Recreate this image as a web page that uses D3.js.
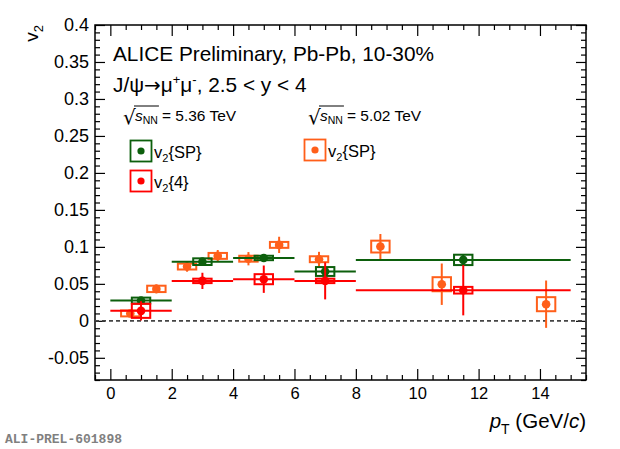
<!DOCTYPE html>
<html lang="en">
<head>
    <meta charset="UTF-8">
    <title>J/psi v2</title>
    <script src="https://cdnjs.cloudflare.com/ajax/libs/d3/7.8.5/d3.min.js"></script>
    <style>
        body { margin: 0; background: #fff; }
    </style>
</head>
<body>

<script>
    // 5.36 TeV, pT bins
    var ptLo536 = [0, 2, 4, 6, 8],
        ptHi536 = [2, 4, 6, 8, 15],
        pt536 = [1, 3, 5, 7, 11.5];
    // v2{SP} 5.36 TeV
    var v2SP536 = [0.0274, 0.080, 0.085, 0.0667, 0.0824],
        v2SP536Stat = [0.004, 0.003, 0.003, 0.005, 0.008],
        v2SP536Syst = [0.004, 0.0045, 0.003, 0.006, 0.007];
    // v2{4} 5.36 TeV
    var v24_536 = [0.0135, 0.054, 0.0563, 0.054, 0.0414],
        v24_536Stat = [0.013, 0.011, 0.0185, 0.025, 0.034],
        v24_536Syst = [0.0095, 0.003, 0.0068, 0.003, 0.0045];
    // v2{SP} 5.02 TeV
    var pt502 = [0.65, 1.5, 2.5, 3.5, 4.5, 5.5, 6.8, 8.8, 10.8, 14.2],
        v2SP502 = [0.010, 0.0432, 0.0734, 0.0878, 0.084, 0.1027, 0.0833, 0.1004, 0.0495, 0.0225],
        v2SP502Stat = [0.003, 0.006, 0.007, 0.008, 0.009, 0.011, 0.010, 0.017, 0.028, 0.032],
        v2SP502Syst = [0.004, 0.0043, 0.004, 0.004, 0.004, 0.004, 0.004, 0.008, 0.0095, 0.0095];

    var xTicks = [0, 2, 4, 6, 8, 10, 12, 14],
        yTicks = [-0.05, 0, 0.05, 0.1, 0.15, 0.2, 0.25, 0.3, 0.35, 0.4];

    var width = 620, height = 449,
        padL = 95, padR = 586, padT = 25, padB = 380,
        boxHalf = 0.3; // half width of syst. boxes in GeV/c

    var green = "#0c5f0c", red = "#ff0000", orange = "#ff5f1a";
    var sans = "Liberation Sans, Arial, Helvetica, sans-serif";

    var svg = d3.select("body").append("svg")
        .attr("width", width)
        .attr("height", height)
        .attr("font-family", sans);

    var x = d3.scaleLinear().domain([-0.5, 15.5]).range([padL, padR]);
    var y = d3.scaleLinear().domain([-0.08, 0.4]).range([padB, padT]);

    // axes, ticks pointing inwards (ROOT style)
    function fmtY(d) { return d === 0 ? "0" : String(+d.toFixed(2)); }

    var xMinor = d3.range(-0.5, 15.51, 0.5).filter(function(d){ return d % 2 !== 0; }),
        yMinor = d3.range(-0.08, 0.4001, 0.01).map(function(d){ return +d.toFixed(2); })
            .filter(function(d){ return Math.abs(d * 20 - Math.round(d * 20)) > 1e-6; });

    function drawAxis(axis, tx, ty, fs) {
        var g = svg.append("g").attr("transform", "translate(" + tx + "," + ty + ")").call(axis);
        g.select(".domain").remove();
        g.selectAll(".tick line").attr("stroke", "#000").attr("stroke-width", 1.2);
        if (!fs) g.selectAll(".tick text").remove();
        else g.selectAll(".tick text").attr("font-size", fs).attr("fill", "#000")
            .attr("font-family", sans);
        return g;
    }

    drawAxis(d3.axisBottom(x).tickValues(xTicks).tickSize(-11).tickPadding(7).tickFormat(d3.format("d")), 0, padB, 16.5);
    drawAxis(d3.axisBottom(x).tickValues(xMinor).tickSize(-5), 0, padB);
    drawAxis(d3.axisTop(x).tickValues(xTicks).tickSize(-11), 0, padT);
    drawAxis(d3.axisTop(x).tickValues(xMinor).tickSize(-5), 0, padT);
    drawAxis(d3.axisLeft(y).tickValues(yTicks).tickSize(-10).tickPadding(6).tickFormat(fmtY), padL, 0, 18);
    drawAxis(d3.axisLeft(y).tickValues(yMinor).tickSize(-5), padL, 0);
    drawAxis(d3.axisRight(y).tickValues(yTicks).tickSize(-10), padR, 0);
    drawAxis(d3.axisRight(y).tickValues(yMinor).tickSize(-5), padR, 0);

    svg.append("rect")
        .attr("x", padL).attr("y", padT)
        .attr("width", padR - padL).attr("height", padB - padT)
        .attr("fill", "none").attr("stroke", "#000").attr("stroke-width", 1.5);

    // zero line
    svg.append("line")
        .attr("x1", padL).attr("x2", padR)
        .attr("y1", y(0)).attr("y2", y(0))
        .attr("stroke", "#444").attr("stroke-width", 1.7)
        .attr("stroke-dasharray", "4,3");

    function drawSeries(color, xs, vals, stat, syst, lo, hi) {
        var g = svg.append("g");
        var data = xs.map(function(d, i) {
            return { x: d, v: vals[i], st: stat[i], sy: syst[i],
                     lo: lo ? lo[i] : null, hi: hi ? hi[i] : null };
        });
        // syst boxes
        g.selectAll("rect.syst").data(data).enter().append("rect")
            .attr("x", function(d){ return x(d.x - boxHalf); })
            .attr("y", function(d){ return y(d.v + d.sy); })
            .attr("width", function(d){ return x(d.x + boxHalf) - x(d.x - boxHalf); })
            .attr("height", function(d){ return y(d.v - d.sy) - y(d.v + d.sy); })
            .attr("fill", "none").attr("stroke", color).attr("stroke-width", 2);
        // horizontal bin widths
        if (lo) {
            g.selectAll("line.xerr").data(data).enter().append("line")
                .attr("x1", function(d){ return x(d.lo); })
                .attr("x2", function(d){ return x(d.hi); })
                .attr("y1", function(d){ return y(d.v); })
                .attr("y2", function(d){ return y(d.v); })
                .attr("stroke", color).attr("stroke-width", 2);
        }
        // stat errors
        g.selectAll("line.yerr").data(data).enter().append("line")
            .attr("x1", function(d){ return x(d.x); })
            .attr("x2", function(d){ return x(d.x); })
            .attr("y1", function(d){ return y(d.v + d.st); })
            .attr("y2", function(d){ return y(d.v - d.st); })
            .attr("stroke", color).attr("stroke-width", 2);
        g.selectAll("circle").data(data).enter().append("circle")
            .attr("cx", function(d){ return x(d.x); })
            .attr("cy", function(d){ return y(d.v); })
            .attr("r", 4.3)
            .attr("fill", color);
    }

    drawSeries(orange, pt502, v2SP502, v2SP502Stat, v2SP502Syst);
    drawSeries(green, pt536, v2SP536, v2SP536Stat, v2SP536Syst, ptLo536, ptHi536);
    drawSeries(red, pt536, v24_536, v24_536Stat, v24_536Syst, ptLo536, ptHi536);

    // texts
    svg.append("text").attr("x", 113).attr("y", 61).attr("font-size", 20.8)
        .text("ALICE Preliminary, Pb-Pb, 10-30%");

    var t2 = svg.append("text").attr("x", 113).attr("y", 92).attr("font-size", 20.8);
    t2.append("tspan").text("J/\u03c8");
    t2.append("tspan").attr("font-family", "DejaVu Sans, sans-serif").attr("font-size", 20).text("\u2192");
    t2.append("tspan").text("\u03bc");
    t2.append("tspan").attr("dy", -8).attr("font-size", 13).text("+");
    t2.append("tspan").attr("dy", 8).text("\u03bc");
    t2.append("tspan").attr("dy", -8).attr("font-size", 13).text("-");
    t2.append("tspan").attr("dy", 8).text(", 2.5 < y < 4");

    function energy(x0, label) {
        var g = svg.append("g");
        g.append("text").attr("x", x0).attr("y", 124).attr("font-size", 20)
            .attr("font-family", "DejaVu Sans, sans-serif").text("\u221a");
        var t = g.append("text").attr("x", x0 + 12).attr("y", 121).attr("font-size", 15.5);
        t.append("tspan").attr("font-style", "italic").text("s");
        t.append("tspan").attr("dy", 3).attr("font-size", 10.5).text("NN");
        var w = t.node().getComputedTextLength();
        g.append("line").attr("x1", x0 + 11).attr("x2", x0 + 12 + w + 1)
            .attr("y1", 106).attr("y2", 106)
            .attr("stroke", "#000").attr("stroke-width", 1);
        g.append("text").attr("x", x0 + 12 + w + 4).attr("y", 121).attr("font-size", 15.5)
            .text("= " + label);
    }
    energy(123, "5.36 TeV");
    energy(308, "5.02 TeV");

    function legendEntry(bx, by, color, label, tx) {
        svg.append("rect").attr("x", bx).attr("y", by).attr("width", 21).attr("height", 21)
            .attr("fill", "none").attr("stroke", color).attr("stroke-width", 1.8);
        svg.append("circle").attr("cx", bx + 10.5).attr("cy", by + 10.5).attr("r", 3.6).attr("fill", color);
        var t = svg.append("text").attr("x", tx).attr("y", by + 17).attr("font-size", 16.5);
        t.append("tspan").text("v");
        t.append("tspan").attr("dy", 4).attr("font-size", 11).text("2");
        t.append("tspan").attr("dy", -4).text(label);
    }
    legendEntry(130.5, 140.5, green, "{SP}", 154);
    legendEntry(130.5, 170.5, red, "{4}", 154);
    legendEntry(304.5, 139.5, orange, "{SP}", 328);

    // axis titles
    var yt = svg.append("text")
        .attr("transform", "translate(38," + padT + ") rotate(-90)")
        .attr("text-anchor", "end").attr("font-size", 19);
    yt.append("tspan").text("v");
    yt.append("tspan").attr("dy", 5).attr("font-size", 13).text("2");

    var xt = svg.append("text").attr("x", padR).attr("y", 428)
        .attr("text-anchor", "end").attr("font-size", 20.5);
    xt.append("tspan").attr("font-style", "italic").text("p");
    xt.append("tspan").attr("dy", 6).attr("font-size", 14).text("T");
    xt.append("tspan").attr("dy", -6).text(" (GeV/");
    xt.append("tspan").attr("font-style", "italic").text("c");
    xt.append("tspan").text(")");

    svg.append("text").attr("x", 5).attr("y", 443)
        .attr("font-family", "Liberation Mono, Courier New, monospace")
        .attr("font-weight", "bold").attr("font-size", 13).attr("fill", "#808080")
        .text("ALI-PREL-601898");
</script>

</body>
</html>
